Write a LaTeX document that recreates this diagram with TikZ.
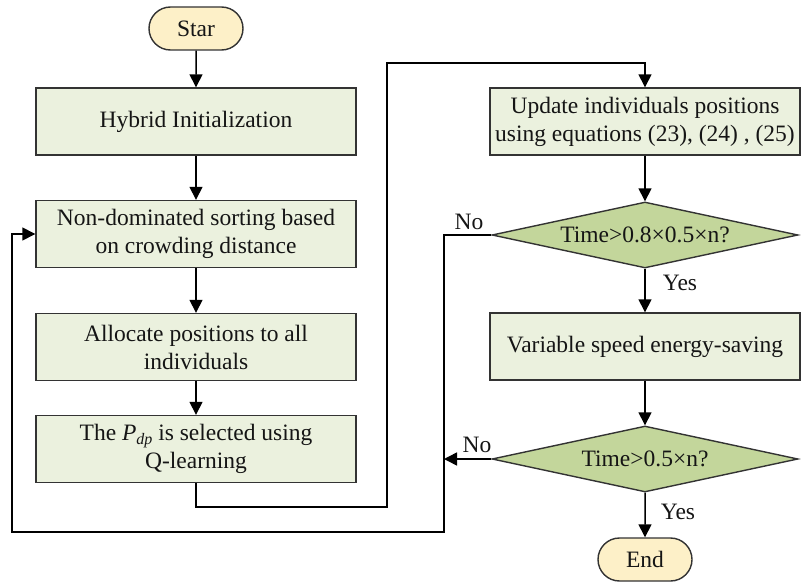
\documentclass[tikz,border=0pt]{standalone}
\usepackage{fontspec}
\IfFontExistsTF{Liberation Serif}
  {\setmainfont{Liberation Serif}}
  {\setmainfont{DejaVu Serif}}
\usetikzlibrary{shapes.geometric,shapes.misc,arrows.meta}

\definecolor{boxfill}{HTML}{EBF1DE}
\definecolor{decfill}{HTML}{C3D69B}
\definecolor{termfill}{HTML}{FDF0C8}
\definecolor{edge}{HTML}{333333}
\definecolor{ink}{HTML}{151515}

\tikzset{
  every node/.style={font=\fontsize{23.5}{28}\selectfont, text=ink},
  process/.style={rectangle, draw=edge, line width=1.4pt, fill=boxfill,
    align=center, inner sep=0pt},
  leftbox/.style={process, minimum width=320pt, minimum height=67pt},
  rightbox/.style={process, minimum width=310pt, minimum height=67pt},
  terminal/.style={rounded rectangle, draw=edge, line width=1.4pt, fill=termfill,
    minimum width=94pt, minimum height=43pt, inner sep=0pt},
  decision/.style={diamond, draw=edge, line width=1.4pt, fill=decfill,
    minimum width=306pt, minimum height=66pt, aspect=4.6, inner sep=0pt},
  flow/.style={draw=black, line width=1.5pt,
    -{Triangle[length=13pt,width=13pt]}},
  tag/.style={inner sep=0pt}
}

\begin{document}
\begin{tikzpicture}[x=1pt,y=-1pt]
  \useasboundingbox (0,0) rectangle (801,583);

  % left column
  \node[terminal] (start) at (196,28.5) {Star};
  \node[leftbox] (init) at (196,121.5) {Hybrid Initialization};
  \node[leftbox] (sort) at (196,234) {Non-dominated sorting based\\on crowding distance};
  \node[leftbox] (alloc) at (196,347) {Allocate positions to all\\individuals};
  \node[leftbox] (qsel) at (196,449)
    {The \textit{P}\raisebox{-0.35ex}{\fontsize{16}{16}\selectfont\textit{dp}} is selected using\\Q-learning};

  % right column
  \node[rightbox] (upd) at (645,121.5) {Update individuals positions\\using equations (23), (24) , (25)};
  \node[decision] (d1) at (645,235) {Time>0.8×0.5×n?};
  \node[rightbox] (speed) at (645,346.5) {Variable speed energy-saving};
  \node[decision] (d2) at (645,459) {Time>0.5×n?};
  \node[terminal] (stop) at (645,559.5) {End};

  % routing points
  \coordinate (qa) at (196,507);
  \coordinate (qb) at (387,507);
  \coordinate (qc) at (387,63);
  \coordinate (qd) at (645,63);
  \coordinate (na) at (444,235);
  \coordinate (nb) at (444,532);
  \coordinate (nc) at (12,532);
  \coordinate (nd) at (12,234);
  \coordinate (nj) at (444,459);

  % straight flow
  \draw[flow] (start) -- (init);
  \draw[flow] (init) -- (sort);
  \draw[flow] (sort) -- (alloc);
  \draw[flow] (alloc) -- (qsel);
  \draw[flow] (upd) -- (d1);
  \draw[flow] (d1) -- (speed);
  \draw[flow] (speed) -- (d2);
  \draw[flow] (d2) -- (stop);

  % hand-over from the left column to the right column
  \draw[flow] (qsel.south) -- (qa) -- (qb) -- (qc) -- (qd) -- (upd.north);

  % feedback loop back to sorting
  \draw[flow] (d1.west) -- (na) -- (nb) -- (nc) -- (nd) -- (sort.west);
  \draw[flow] (d2.west) -- (nj);

  % branch labels
  \node[tag] (no1) at (469,222) {No};
  \node[tag] (yes1) at (680,283) {Yes};
  \node[tag] (no2) at (477,445) {No};
  \node[tag] (yes2) at (678,512) {Yes};
\end{tikzpicture}
\end{document}
